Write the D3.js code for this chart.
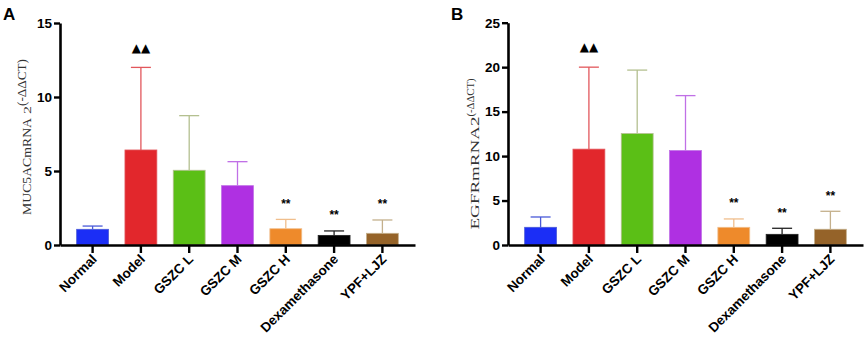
<!DOCTYPE html>
<html>
<head>
<meta charset="utf-8">
<script src="https://cdn.jsdelivr.net/npm/d3@7"></script>
<style>
  body { margin: 0; background: #fff; }
  svg { display: block; }
</style>
</head>
<body>
<div class="plot"></div>
<script>
var groups = ["Normal", "Model", "GSZC L", "GSZC M", "GSZC H", "Dexamethasone", "YPF+LJZ"];
var barColors = ["#1b2ef6", "#e2272c", "#5bbf16", "#af30e2", "#ee8a2b", "#000000", "#956329"];
var errColors = ["#4a5ad8", "#e2575c", "#b4c090", "#c070e6", "#f0be8c", "#222222", "#c4b08c"];

var mucMean = [1.06, 6.42, 5.05, 4.01, 1.10, 0.65, 0.79];
var mucSD   = [0.22, 5.58, 3.69, 1.62, 0.63, 0.30, 0.90];
var egfrMean = [1.99, 10.78, 12.53, 10.62, 1.99, 1.20, 1.77];
var egfrSD   = [1.16, 9.22, 7.14, 6.18, 0.94, 0.68, 2.02];
var sigMarks = ["", "\u25B2\u25B2", "", "", "**", "**", "**"];

var mucTicks = [0, 5, 10, 15];
var egfrTicks = [0, 5, 10, 15, 20, 25];

var width = 865, height = 338;

var svg = d3.select(".plot").append("svg")
    .attr("width", width)
    .attr("height", height);

function panel(opt) {
  var x = d3.scaleBand()
      .domain(groups)
      .range([opt.left, opt.right])
      .paddingInner(0.34)
      .paddingOuter(0.345);

  var y = d3.scaleLinear()
      .domain([0, opt.max])
      .range([245, opt.top]);

  var cx = function(d, i) { return x(groups[i]) + x.bandwidth() / 2; };

  var g = svg.append("g");

  // panel letter
  g.append("text")
      .attr("x", opt.left - 57)
      .attr("y", 20)
      .style("font", "bold 17px 'Liberation Sans', Arial, sans-serif")
      .text(opt.letter);

  // bars
  g.selectAll(".bar")
    .data(opt.mean)
    .enter().append("rect")
      .attr("class", "bar")
      .attr("x", function(d, i) { return x(groups[i]); })
      .attr("y", function(d) { return y(d); })
      .attr("width", x.bandwidth())
      .attr("height", function(d) { return y(0) - y(d); })
      .style("fill", function(d, i) { return barColors[i]; })
      .style("stroke", function(d, i) { return errColors[i]; })
      .style("stroke-width", 0.8);

  // upper error bars
  var err = g.selectAll(".err")
    .data(opt.mean)
    .enter().append("g")
      .attr("class", "err")
      .style("stroke", function(d, i) { return errColors[i]; })
      .style("stroke-width", 1.3);

  err.append("line")
      .attr("x1", cx)
      .attr("x2", cx)
      .attr("y1", function(d) { return y(d); })
      .attr("y2", function(d, i) { return y(d + opt.sd[i]); });

  err.append("line")
      .attr("x1", function(d, i) { return cx(d, i) - 10; })
      .attr("x2", function(d, i) { return cx(d, i) + 10; })
      .attr("y1", function(d, i) { return y(d + opt.sd[i]); })
      .attr("y2", function(d, i) { return y(d + opt.sd[i]); });

  // significance marks
  g.selectAll(".sig")
    .data(opt.mean)
    .enter().append("text")
      .attr("class", "sig")
      .attr("x", cx)
      .attr("y", function(d, i) { return y(d + opt.sd[i]) - 20; })
      .attr("dy", function(d, i) { return sigMarks[i] == "**" ? "0.7em" : "0.35em"; })
      .attr("text-anchor", "middle")
      .style("font", function(d, i) {
        return sigMarks[i] == "**" ? "bold 12px 'Liberation Sans', Arial, sans-serif"
                                   : "12px 'DejaVu Sans', sans-serif";
      })
      .text(function(d, i) { return sigMarks[i]; });

  // y axis
  var yAxis = g.append("g")
      .attr("transform", "translate(" + opt.left + ",0)")
      .call(d3.axisLeft(y).tickValues(opt.ticks).tickSize(6).tickPadding(2).tickSizeOuter(0));

  // x axis
  var xAxis = g.append("g")
      .attr("transform", "translate(0,245)")
      .call(d3.axisBottom(x).tickSize(8).tickSizeOuter(0));

  [yAxis, xAxis].forEach(function(a) {
    a.select(".domain").style("stroke", "#000").style("stroke-width", 2.6);
    a.selectAll(".tick line").style("stroke", "#000").style("stroke-width", 2.4);
    a.selectAll("text")
        .style("font-family", "'Liberation Sans', Arial, sans-serif")
        .style("font-weight", "bold")
        .style("font-size", "13.5px")
        .style("fill", "#000");
  });

  // slanted category labels
  xAxis.selectAll(".tick text")
      .attr("x", null)
      .attr("y", null)
      .attr("dy", null)
      .attr("text-anchor", "end")
      .attr("transform", "translate(5,15) rotate(-45)");

  // y axis title
  var title = g.append("text")
      .attr("transform", "translate(" + opt.titleX + "," + opt.titleY + ") rotate(-90)")
      .attr("text-anchor", "middle")
      .style("font-family", "'Liberation Serif', 'Times New Roman', serif")
      .style("fill", "#333");

  opt.title.forEach(function(part) {
    title.append("tspan")
        .attr("font-size", part.size)
        .attr("dy", part.dy)
        .attr("textLength", part.len)
        .attr("lengthAdjust", "spacingAndGlyphs")
        .text(part.text);
  });
}

panel({
  letter: "A", left: 60, right: 415, top: 23, max: 15,
  mean: mucMean, sd: mucSD, ticks: mucTicks,
  titleX: 31, titleY: 137,
  title: [
    {text: "MUC5ACmRNA", size: 13.5, dy: 0, len: 97},
    {text: "\u00A02", size: 10, dy: 0, len: 12},
    {text: "(-\u0394\u0394CT)", size: 12.5, dy: -5, len: 47}
  ]
});

panel({
  letter: "B", left: 508, right: 863, top: 22.7, max: 25,
  mean: egfrMean, sd: egfrSD, ticks: egfrTicks,
  titleX: 479, titleY: 154,
  title: [
    {text: "EGFRmRNA2", size: 13, dy: 0, len: 113},
    {text: "(-\u0394\u0394CT)", size: 10, dy: -5, len: 38}
  ]
});
</script>
</body>
</html>
